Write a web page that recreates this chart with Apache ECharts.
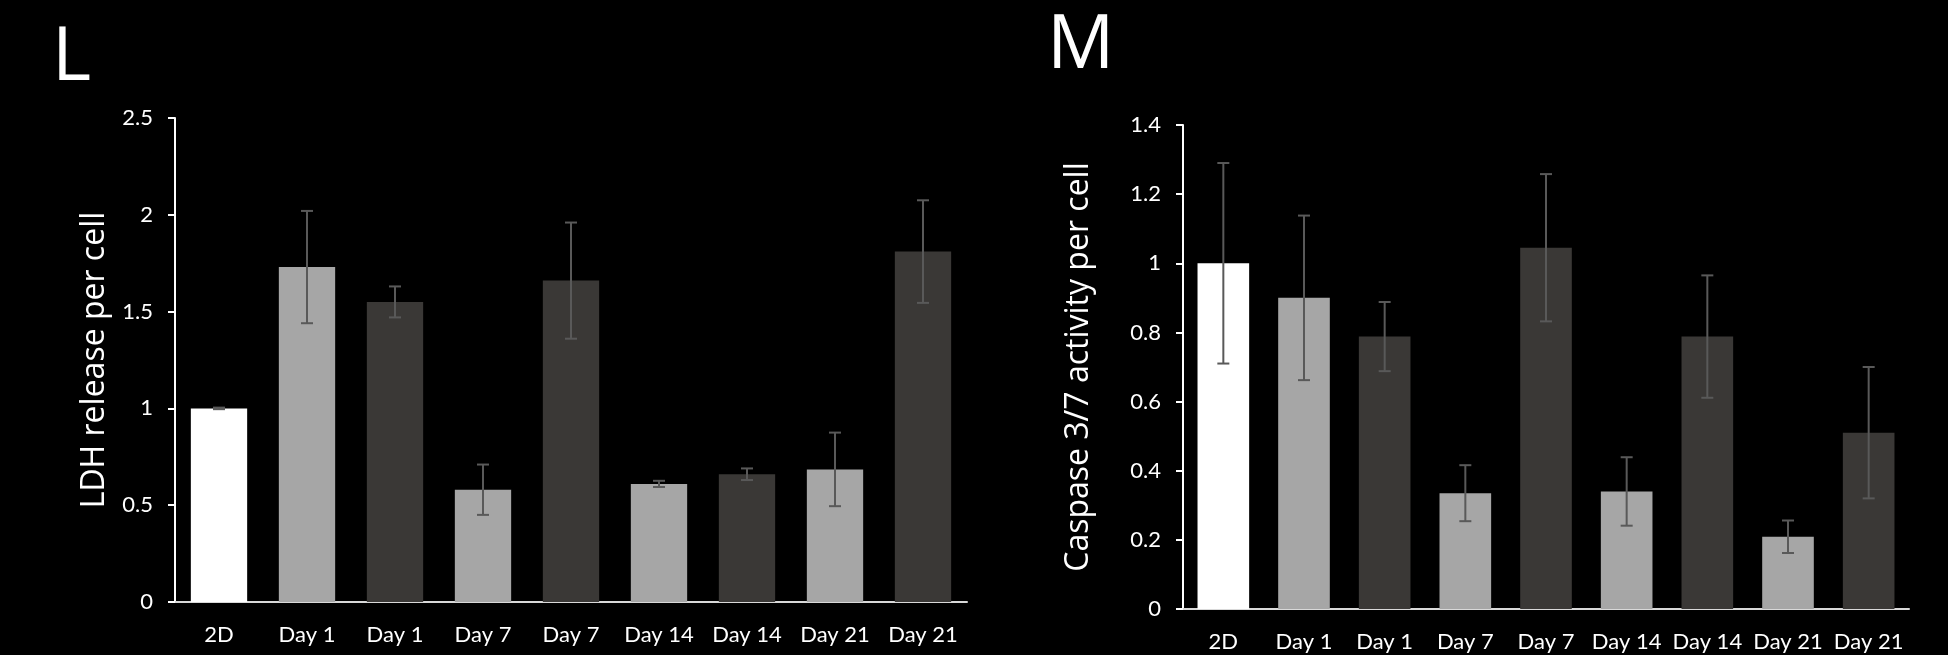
<!DOCTYPE html>
<html><head><meta charset="utf-8">
<script src="https://cdn.jsdelivr.net/npm/echarts@6/dist/echarts.min.js"></script>
<style>html,body{margin:0;padding:0;background:#000;}#c{width:1948px;height:655px;}</style>
</head><body><div id="c"></div>
<script>
// ---- data ----
const categories = ['2D', 'Day 1', 'Day 1', 'Day 7', 'Day 7', 'Day 14', 'Day 14', 'Day 21', 'Day 21'];
const ldhMean = [1.00, 1.73, 1.55, 0.58, 1.66, 0.61, 0.66, 0.685, 1.81];
const ldhErr  = [0.004, 0.29, 0.08, 0.13, 0.30, 0.016, 0.03, 0.19, 0.265];
const caspMean = [1.00, 0.90, 0.788, 0.335, 1.045, 0.34, 0.788, 0.209, 0.51];
const caspErr  = [0.29, 0.238, 0.10, 0.081, 0.213, 0.099, 0.177, 0.047, 0.19];
const ldhTicks = ['0', '0.5', '1', '1.5', '2', '2.5'];
const caspTicks = ['0', '0.2', '0.4', '0.6', '0.8', '1', '1.2', '1.4'];
const panelLetters = ['L', 'M'];
const yNames = ['LDH release per cell', 'Caspase 3/7 activity per cell'];

// ---- styles ----
const barColors = ['#ffffff', '#a6a6a6', '#3a3836', '#a6a6a6', '#3a3836', '#a6a6a6', '#3a3836', '#a6a6a6', '#3a3836'];
const errColor = '#595959';
const tickFont = { color: '#ffffff', fontFamily: 'Lato', fontSize: 22 };

function barData(means) {
  return means.map((v, i) => ({ value: v, itemStyle: { color: barColors[i] } }));
}
function errData(means, errs) {
  return means.map((v, i) => [i, v - errs[i], v + errs[i]]);
}
function renderErr(params, api) {
  const x = api.value(0);
  const lo = api.coord([x, api.value(1)]);
  const hi = api.coord([x, api.value(2)]);
  const hw = 6;
  const st = { stroke: errColor, lineWidth: 2 };
  return {
    type: 'group',
    children: [
      { type: 'line', shape: { x1: hi[0], y1: hi[1], x2: lo[0], y2: lo[1] }, style: st },
      { type: 'line', shape: { x1: hi[0] - hw, y1: hi[1], x2: hi[0] + hw, y2: hi[1] }, style: st },
      { type: 'line', shape: { x1: lo[0] - hw, y1: lo[1], x2: lo[0] + hw, y2: lo[1] }, style: st }
    ]
  };
}
function xAxis(gi) {
  return {
    type: 'category', gridIndex: gi, data: categories,
    axisLine: { lineStyle: { color: '#d9d9d9', width: 2 } },
    axisTick: { show: false },
    axisLabel: Object.assign({ margin: 22, interval: 0 }, tickFont)
  };
}
function yAxis(gi, ticks, gap) {
  const t = ticks.map(Number);
  return {
    type: 'value', gridIndex: gi, min: t[0], max: t[t.length - 1], interval: t[1] - t[0],
    splitLine: { show: false },
    axisLine: { show: true, lineStyle: { color: '#ffffff', width: 2 } },
    axisTick: { show: true, length: 7, lineStyle: { color: '#ffffff', width: 2 } },
    axisLabel: Object.assign({ margin: 22, formatter: v => ticks[Math.round((v - t[0]) / (t[1] - t[0]))] }, tickFont),
    name: yNames[gi], nameLocation: 'middle', nameRotate: 90, nameGap: gap,
    nameTextStyle: { color: '#ffffff', fontFamily: 'Open Sans', fontSize: 32 }
  };
}

const chart = echarts.init(document.getElementById('c'), null, { renderer: 'canvas' });
chart.setOption({
  backgroundColor: '#000000',
  animation: false,
  title: [
    { text: panelLetters[0], left: 47, top: 16, textStyle: { color: '#fff', fontFamily: 'Open Sans', fontWeight: 'normal', fontSize: 75 } },
    { text: panelLetters[1], left: 1042, top: 4, textStyle: { color: '#fff', fontFamily: 'Open Sans', fontWeight: 'normal', fontSize: 75 } }
  ],
  grid: [
    { left: 175, top: 118, width: 792, height: 484 },
    { left: 1183, top: 125, width: 726, height: 484 }
  ],
  xAxis: [xAxis(0), xAxis(1)],
  yAxis: [yAxis(0, ldhTicks, 64), yAxis(1, caspTicks, 88)],
  series: [
    { type: 'bar', xAxisIndex: 0, yAxisIndex: 0, data: barData(ldhMean), barWidth: '64%' },
    { type: 'custom', xAxisIndex: 0, yAxisIndex: 0, data: errData(ldhMean, ldhErr), renderItem: renderErr, z: 5 },
    { type: 'bar', xAxisIndex: 1, yAxisIndex: 1, data: barData(caspMean), barWidth: '64%' },
    { type: 'custom', xAxisIndex: 1, yAxisIndex: 1, data: errData(caspMean, caspErr), renderItem: renderErr, z: 5 }
  ]
});
</script>
</body></html>
